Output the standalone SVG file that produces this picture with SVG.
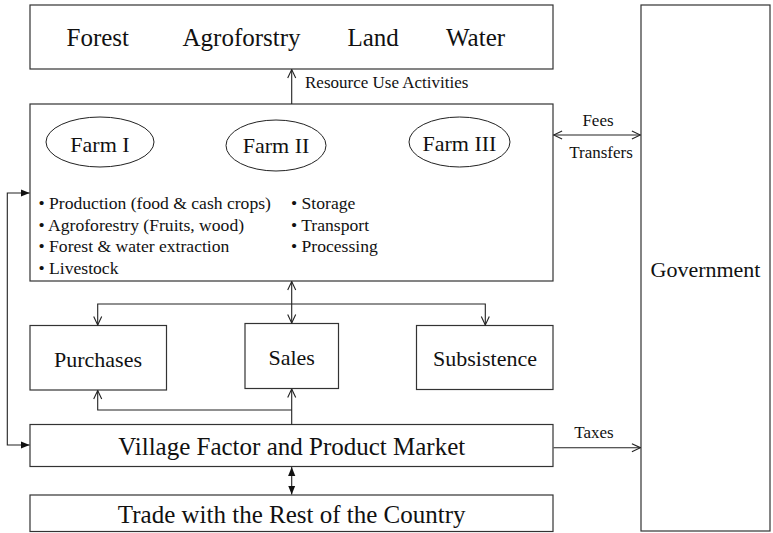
<svg xmlns="http://www.w3.org/2000/svg" width="773" height="533" viewBox="0 0 773 533" font-family="'Liberation Serif', 'Times New Roman', Times, serif">
<style>
.box{fill:#fff;stroke:#333;stroke-width:1.2}
.ell{fill:#fff;stroke:#222;stroke-width:1}
.ln{fill:none;stroke:#222;stroke-width:1.1}
text{font-family:'Liberation Serif','Times New Roman',Times,serif;fill:#111}
</style>
<defs>
<marker id="open" viewBox="0 0 10 10" refX="9.5" refY="5" markerWidth="10" markerHeight="10" markerUnits="userSpaceOnUse" orient="auto-start-reverse">
<path d="M1,1 L9.5,5 L1,9" fill="none" stroke="#222" stroke-width="1.1"/>
</marker>
<marker id="fill" viewBox="0 0 10 10" refX="10" refY="5" markerWidth="9" markerHeight="8" markerUnits="userSpaceOnUse" orient="auto-start-reverse" preserveAspectRatio="none">
<path d="M0,0.5 L10,5 L0,9.5 Z" fill="#111"/>
</marker>
</defs>
<g id="resources">
<rect class="box" x="30" y="5" width="523" height="64"/>
<text font-size="25" x="66.5" y="46">Forest</text>
<text font-size="25" x="182.5" y="46">Agroforstry</text>
<text font-size="25" x="347.5" y="46">Land</text>
<text font-size="25" x="446" y="46">Water</text>
</g>
<g id="government">
<rect class="box" x="641" y="5" width="129" height="526"/>
<text font-size="22" x="705.5" y="277" text-anchor="middle">Government</text>
</g>
<g id="farms">
<rect class="box" x="30" y="104" width="523" height="177"/>
<ellipse class="ell" cx="100" cy="142" rx="54" ry="25"/>
<text font-size="22" x="100" y="152" text-anchor="middle">Farm I</text>
<ellipse class="ell" cx="276" cy="145.5" rx="50" ry="25.5"/>
<text font-size="22" x="276" y="153" text-anchor="middle">Farm II</text>
<ellipse class="ell" cx="459.5" cy="142" rx="50.5" ry="25"/>
<text font-size="22" x="459.5" y="151" text-anchor="middle">Farm III</text>
<text font-size="17.6" x="38.5" y="209">• Production (food &amp; cash crops)</text>
<text font-size="17.6" x="38.5" y="230.5">• Agroforestry (Fruits, wood)</text>
<text font-size="17.6" x="38.5" y="252">• Forest &amp; water extraction</text>
<text font-size="17.6" x="38.5" y="273.5">• Livestock</text>
<text font-size="17.6" x="291" y="209">• Storage</text>
<text font-size="17.6" x="291" y="230.5">• Transport</text>
<text font-size="17.6" x="291" y="252">• Processing</text>
</g>
<g id="purchases">
<rect class="box" x="30" y="325.5" width="136.5" height="64.5"/>
<text font-size="22" x="98" y="366.5" text-anchor="middle">Purchases</text>
</g>
<g id="sales">
<rect class="box" x="245" y="323.5" width="93.5" height="65"/>
<text font-size="22" x="291.7" y="365" text-anchor="middle">Sales</text>
</g>
<g id="subsistence">
<rect class="box" x="416.5" y="325.5" width="136.5" height="64"/>
<text font-size="22" x="485" y="366" text-anchor="middle">Subsistence</text>
</g>
<g id="market">
<rect class="box" x="30" y="424.5" width="523" height="42"/>
<text font-size="25" x="291.7" y="454.5" text-anchor="middle">Village Factor and Product Market</text>
</g>
<g id="trade">
<rect class="box" x="30" y="495" width="523" height="36.5"/>
<text font-size="25" x="291.7" y="523" text-anchor="middle">Trade with the Rest of the Country</text>
</g>
<g id="connectors">
<line class="ln" x1="291.7" y1="104" x2="291.7" y2="69.6" marker-end="url(#open)"/>
<text font-size="17" x="305" y="88">Resource Use Activities</text>
<line class="ln" x1="553.6" y1="135" x2="640.4" y2="135" marker-start="url(#open)" marker-end="url(#open)"/>
<text font-size="17" x="598" y="126" text-anchor="middle">Fees</text>
<text font-size="17" x="601" y="158" text-anchor="middle">Transfers</text>
<line class="ln" x1="291.7" y1="281.6" x2="291.7" y2="323" marker-start="url(#open)" marker-end="url(#open)"/>
<path class="ln" d="M97.7,325 L97.7,304 L485.3,304 L485.3,325" marker-start="url(#open)" marker-end="url(#open)"/>
<line class="ln" x1="291.7" y1="424.5" x2="291.7" y2="389" marker-end="url(#open)"/>
<path class="ln" d="M291.7,410 L97.7,410 L97.7,390.6" marker-end="url(#open)"/>
<path class="ln" d="M29.6,193 L7.3,193 L7.3,445 L29.6,445" marker-start="url(#fill)" marker-end="url(#fill)"/>
<line class="ln" x1="291.7" y1="467" x2="291.7" y2="494.6" marker-start="url(#fill)" marker-end="url(#fill)"/>
<line class="ln" x1="553.6" y1="447.7" x2="640.4" y2="447.7" marker-end="url(#open)"/>
<text font-size="17" x="594" y="438" text-anchor="middle">Taxes</text>
</g>
</svg>
